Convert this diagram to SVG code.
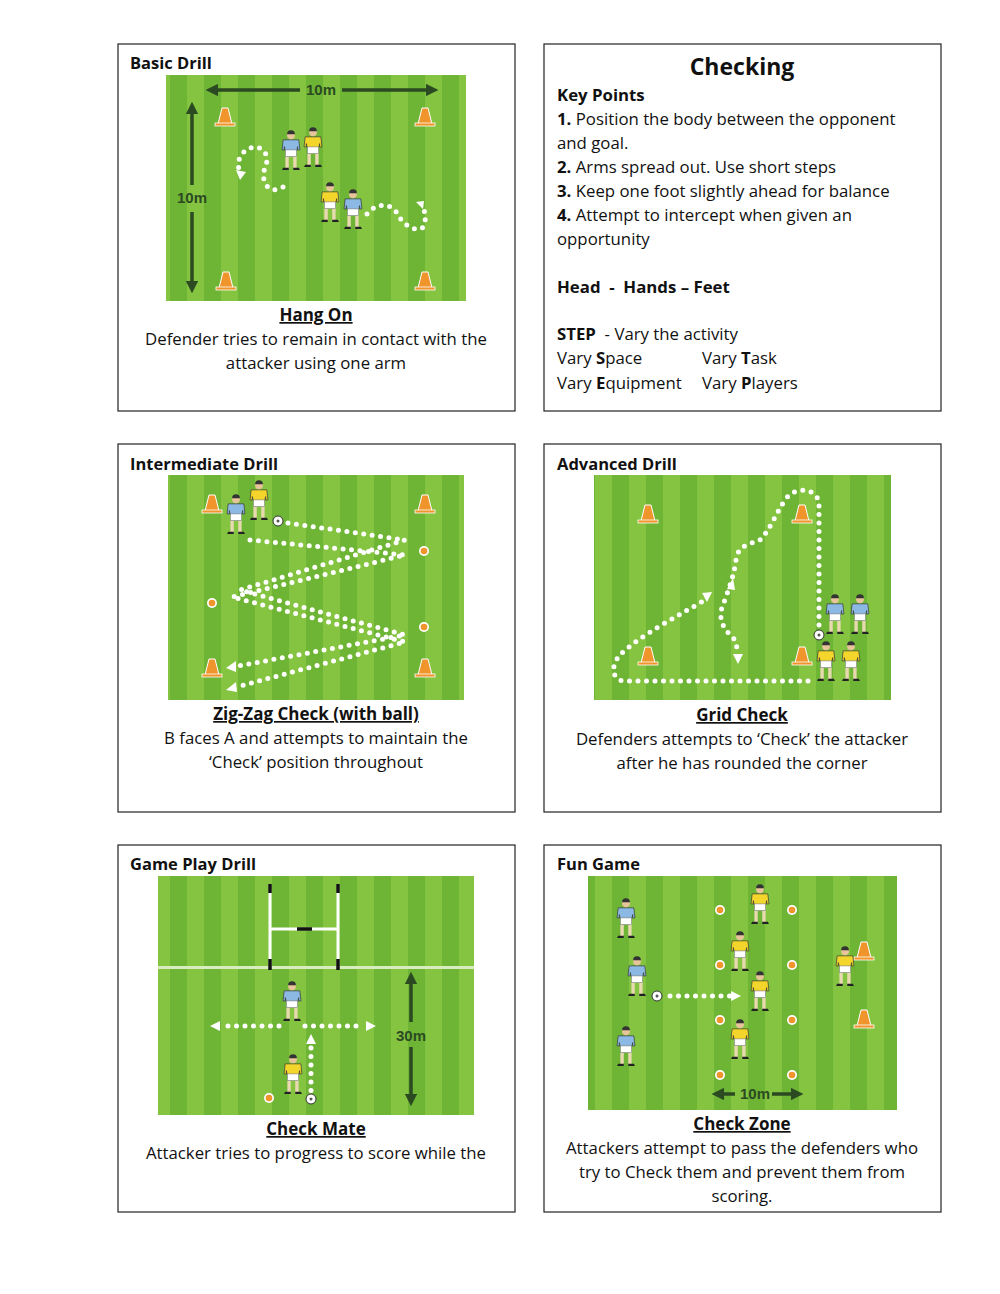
<svg xmlns="http://www.w3.org/2000/svg" width="1000" height="1294" viewBox="0 0 1000 1294">
<style>
.box{fill:#fff;stroke:#222;stroke-width:1.2}
.t{font-family:"Open Sans","Liberation Sans",sans-serif;font-size:16.8px;fill:#111}
.h{font-weight:bold;font-size:16.5px}
.c{text-anchor:middle}
.u{text-decoration:underline;font-weight:bold;font-size:17px}
.dots{fill:none;stroke:#fff;stroke-width:5;stroke-dasharray:0 8.5;stroke-linecap:round}
.dark{stroke:#2b4a22;stroke-width:3.5;fill:none}
.lab{font-family:"Liberation Sans",sans-serif;font-weight:bold;font-size:15px;fill:#2b4a22}
</style>
<defs>
<pattern id="st" patternUnits="userSpaceOnUse" width="34" height="10"><rect width="34" height="10" fill="#84c441"/><rect width="17" height="10" fill="#6fb535"/></pattern>
<marker id="ah" viewBox="0 0 10 10" refX="5" refY="5" markerWidth="3.6" markerHeight="3.6" orient="auto-start-reverse"><path d="M0,0L10,5L0,10z" fill="#2b4a22"/></marker>
<g id="cone"><path d="M-7,8 L-3,-8 L3,-8 L7,8z" fill="#f0952b" stroke="#fff" stroke-width="1"/><rect x="-10" y="7" width="20" height="3" fill="#f0952b" stroke="#fff" stroke-width="0.8"/></g>
<g id="ball"><circle r="5" fill="#fff" stroke="#333" stroke-width="1"/><circle r="1.5" fill="#555"/></g>
<g id="od"><circle r="5" fill="#fff"/><circle r="3.3" fill="#f0952b"/></g>
<g id="legs"><rect x="-5" y="22" width="3" height="11" fill="#e8d9b0"/><rect x="2" y="22" width="3" height="11" fill="#e8d9b0"/><path d="M-8,34h6v-2h-5zM2,32h5l1,2h-6z" fill="#222"/><rect x="-5" y="16" width="10" height="6" fill="#fff" stroke="#777" stroke-width="0.5"/><circle cx="0" cy="3" r="3.5" fill="#e8c49a"/><path d="M-3.5,2 A3.5,3.5 0 0 1 3.5,2z" fill="#333"/></g>
<g id="pb"><g transform="scale(1.12)"><path d="M-7,7h14l1,9h-2v-3l-1,4h-10l-1,-4v3h-2z" fill="#8cb8e4" stroke="#333" stroke-width="0.6"/><use href="#legs"/></g></g>
<g id="py"><g transform="scale(1.12)"><path d="M-7,7h14l1,9h-2v-3l-1,4h-10l-1,-4v3h-2z" fill="#f3d52c" stroke="#333" stroke-width="0.6"/><use href="#legs"/></g></g>
</defs>

<g id="basic">
<rect class="box" x="118" y="44" width="397" height="367"/>
<text class="t h" x="130" y="69">Basic Drill</text>
<rect x="166" y="75" width="300" height="226" fill="url(#st)"/>
<path class="dark" d="M212,90H300M342,90H432" marker-start="url(#ah)" marker-end="url(#ah)"/>
<text class="lab c" x="321" y="95">10m</text>
<path class="dark" d="M192,108V185M192,212V287" marker-start="url(#ah)" marker-end="url(#ah)"/>
<text class="lab c" x="192" y="203">10m</text>
<use href="#cone" x="225" y="116"/><use href="#cone" x="425" y="116"/><use href="#cone" x="226" y="280"/><use href="#cone" x="425" y="280"/>
<path class="dots" d="M283,187C268,196 260,180 265,168C272,152 258,142 246,150C236,158 238,168 240,172"/>
<path d="M236,170L246,172L240,180z" fill="#fff"/>
<path class="dots" d="M367,214C376,203 390,202 397,213C404,228 424,236 425,222C426,214 424,208 421,206"/>
<path d="M416,202L424,201L423,209z" fill="#fff"/>
<use href="#pb" x="291" y="132"/><use href="#py" x="313" y="129"/><use href="#py" x="330" y="184"/><use href="#pb" x="353" y="191"/>
<text class="t u c" x="316" y="321">Hang On</text>
<text class="t c" x="316" y="345">Defender tries to remain in contact with the</text>
<text class="t c" x="316" y="369">attacker using one arm</text>
</g>

<g id="checking">
<rect class="box" x="544" y="44" width="397" height="367"/>
<text class="t c" x="742" y="75" style="font-weight:bold;font-size:23px">Checking</text>
<text class="t" x="557" y="101" font-weight="bold">Key Points</text>
<text class="t" x="557" y="125"><tspan font-weight="bold">1.</tspan> Position the body between the opponent</text>
<text class="t" x="557" y="149">and goal.</text>
<text class="t" x="557" y="173"><tspan font-weight="bold">2.</tspan> Arms spread out. Use short steps</text>
<text class="t" x="557" y="197"><tspan font-weight="bold">3.</tspan> Keep one foot slightly ahead for balance</text>
<text class="t" x="557" y="221"><tspan font-weight="bold">4.</tspan> Attempt to intercept when given an</text>
<text class="t" x="557" y="245">opportunity</text>
<text class="t" x="557" y="293" font-weight="bold" xml:space="preserve">Head  -  Hands – Feet</text>
<text class="t" x="557" y="340" xml:space="preserve"><tspan font-weight="bold">STEP</tspan>  - Vary the activity</text>
<text class="t" x="557" y="364">Vary <tspan font-weight="bold">S</tspan>pace</text>
<text class="t" x="702" y="364">Vary <tspan font-weight="bold">T</tspan>ask</text>
<text class="t" x="557" y="389">Vary <tspan font-weight="bold">E</tspan>quipment</text>
<text class="t" x="702" y="389">Vary <tspan font-weight="bold">P</tspan>layers</text>
</g>

<g id="intermediate">
<rect class="box" x="118" y="444" width="397" height="368"/>
<text class="t h" x="130" y="470">Intermediate Drill</text>
<rect x="168" y="475" width="296" height="225" fill="url(#st)"/>
<use href="#cone" x="212" y="503"/><use href="#cone" x="425" y="503"/><use href="#cone" x="212" y="667"/><use href="#cone" x="425" y="667"/>
<use href="#od" x="424" y="551"/><use href="#od" x="212" y="603"/><use href="#od" x="424" y="627"/>
<path class="dots" d="M288,523L405,540L240,590L405,635L238,666"/>
<path class="dots" d="M250,540L405,555L232,597L405,642L240,686"/>
<path d="M226,668L236,661L236,672z" fill="#fff"/><path d="M226,690L236,682L237,692z" fill="#fff"/>
<use href="#pb" x="236" y="496"/><use href="#py" x="259" y="482"/><use href="#ball" x="278" y="521"/>
<text class="t u c" x="316" y="720">Zig-Zag Check (with ball)</text>
<text class="t c" x="316" y="744">B faces A and attempts to maintain the</text>
<text class="t c" x="316" y="768">‘Check’ position throughout</text>
</g>

<g id="advanced">
<rect class="box" x="544" y="444" width="397" height="368"/>
<text class="t h" x="557" y="470">Advanced Drill</text>
<rect x="594" y="475" width="297" height="225" fill="url(#st)"/>
<use href="#cone" x="648" y="513"/><use href="#cone" x="802" y="513"/><use href="#cone" x="648" y="655"/><use href="#cone" x="802" y="655"/>
<path class="dots" d="M819,625V505C819,488 795,485 785,500C775,515 770,530 760,540C748,545 738,545 736,560C734,575 730,585 725,600C715,620 725,630 735,640L738,652"/>
<path d="M733,654L743,654L738,664z" fill="#fff"/>
<path class="dots" d="M808,681H625C612,681 610,666 620,655C640,635 680,615 705,600"/>
<path d="M702,593L712,592L707,602z" fill="#fff"/>
<path d="M727,589L733,578L735,590z" fill="#fff"/>
<use href="#pb" x="835" y="596"/><use href="#pb" x="860" y="596"/><use href="#py" x="826" y="643"/><use href="#py" x="851" y="643"/><use href="#ball" x="819" y="635"/>
<text class="t u c" x="742" y="721">Grid Check</text>
<text class="t c" x="742" y="745">Defenders attempts to ‘Check’ the attacker</text>
<text class="t c" x="742" y="769">after he has rounded the corner</text>
</g>

<g id="gameplay">
<rect class="box" x="118" y="845" width="397" height="367"/>
<text class="t h" x="130" y="870">Game Play Drill</text>
<rect x="158" y="876" width="316" height="239" fill="url(#st)"/>
<rect x="158" y="966" width="316" height="3" fill="#d8ecc0"/>
<path d="M270,884V968M338,884V968M270,929H338" stroke="#fff" stroke-width="3" fill="none"/>
<path d="M270,884V893M338,884V893M270,959V970M338,959V970M297,929H312" stroke="#111" stroke-width="3.5"/>
<path class="dots" d="M228,1026H280M305,1026H362"/>
<path d="M210,1026L220,1021V1031zM376,1026L366,1021V1031z" fill="#fff"/>
<path class="dots" d="M311,1048V1094"/>
<path d="M311,1034L306,1044H316z" fill="#fff"/>
<path class="dark" d="M411,978V1022M411,1047V1100" marker-start="url(#ah)" marker-end="url(#ah)"/>
<text class="lab c" x="411" y="1041">30m</text>
<use href="#pb" x="292" y="983"/><use href="#py" x="293" y="1056"/>
<use href="#od" x="269" y="1098"/><use href="#ball" x="311" y="1099"/>
<text class="t u c" x="316" y="1135">Check Mate</text>
<text class="t c" x="316" y="1159">Attacker tries to progress to score while the</text>
</g>

<g id="fungame">
<rect class="box" x="544" y="845" width="397" height="367"/>
<text class="t h" x="557" y="870">Fun Game</text>
<rect x="588" y="876" width="309" height="234" fill="url(#st)"/>
<use href="#od" x="720" y="910"/><use href="#od" x="792" y="910"/><use href="#od" x="720" y="965"/><use href="#od" x="792" y="965"/>
<use href="#od" x="720" y="1020"/><use href="#od" x="792" y="1020"/><use href="#od" x="720" y="1075"/><use href="#od" x="792" y="1075"/>
<use href="#cone" x="864" y="950"/><use href="#cone" x="864" y="1018"/>
<path class="dots" d="M670,996H730"/><path d="M741,996L731,991V1001z" fill="#fff"/>
<path class="dark" d="M718,1094H735M772,1094H797" marker-start="url(#ah)" marker-end="url(#ah)"/>
<text class="lab c" x="755" y="1099">10m</text>
<use href="#pb" x="626" y="900"/><use href="#pb" x="637" y="958"/><use href="#pb" x="626" y="1028"/>
<use href="#py" x="760" y="886"/><use href="#py" x="740" y="933"/><use href="#py" x="760" y="973"/><use href="#py" x="740" y="1021"/><use href="#py" x="845" y="948"/>
<use href="#ball" x="657" y="996"/>
<text class="t u c" x="742" y="1130">Check Zone</text>
<text class="t c" x="742" y="1154">Attackers attempt to pass the defenders who</text>
<text class="t c" x="742" y="1178">try to Check them and prevent them from</text>
<text class="t c" x="742" y="1202">scoring.</text>
</g>
</svg>
